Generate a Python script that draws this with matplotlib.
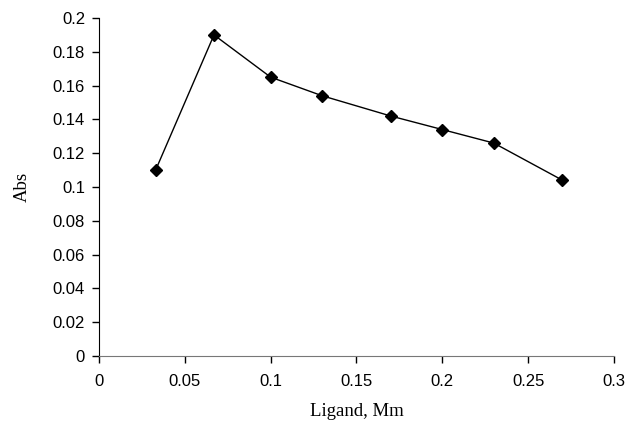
import numpy as np
import matplotlib.pyplot as plt

# datos
ligand = [0.033, 0.067, 0.1, 0.13, 0.17, 0.2, 0.23, 0.27]
absorb = [0.110, 0.190, 0.165, 0.154, 0.142, 0.134, 0.126, 0.104]
xticks = [0, 0.05, 0.1, 0.15, 0.2, 0.25, 0.3]
yticks = [0, 0.02, 0.04, 0.06, 0.08, 0.1, 0.12, 0.14, 0.16, 0.18, 0.2]

fig = plt.figure(figsize=(6.28, 4.23), dpi=100)
ax = fig.add_axes([0.1576, 0.1584, 0.8201, 0.799])

ax.plot(ligand, absorb, color='black', lw=1, marker='D', ms=6)

ax.set_xlim(0, 0.3)
ax.set_ylim(0, 0.2)
ax.set_xticks(xticks)
ax.set_yticks(yticks)
ax.set_xticklabels(['0', '0.05', '0.1', '0.15', '0.2', '0.25', '0.3'],
                   family='Liberation Sans', fontsize=12)
ax.set_yticklabels(['0', '0.02', '0.04', '0.06', '0.08', '0.1', '0.12', '0.14',
                    '0.16', '0.18', '0.2'], family='Liberation Sans', fontsize=12)

ax.spines['top'].set_visible(False)
ax.spines['right'].set_visible(False)
ax.spines['bottom'].set_color('#777777')
ax.tick_params(direction='out', length=5, width=1, pad=5)
ax.tick_params(axis='x', pad=8)

ax.set_xlabel('Ligand, Mm', family='Liberation Serif', fontsize=13.5, labelpad=10)
ax.set_ylabel('Abs', family='Liberation Serif', fontsize=13.5, labelpad=16)

fig.savefig('out.png', dpi=100)
